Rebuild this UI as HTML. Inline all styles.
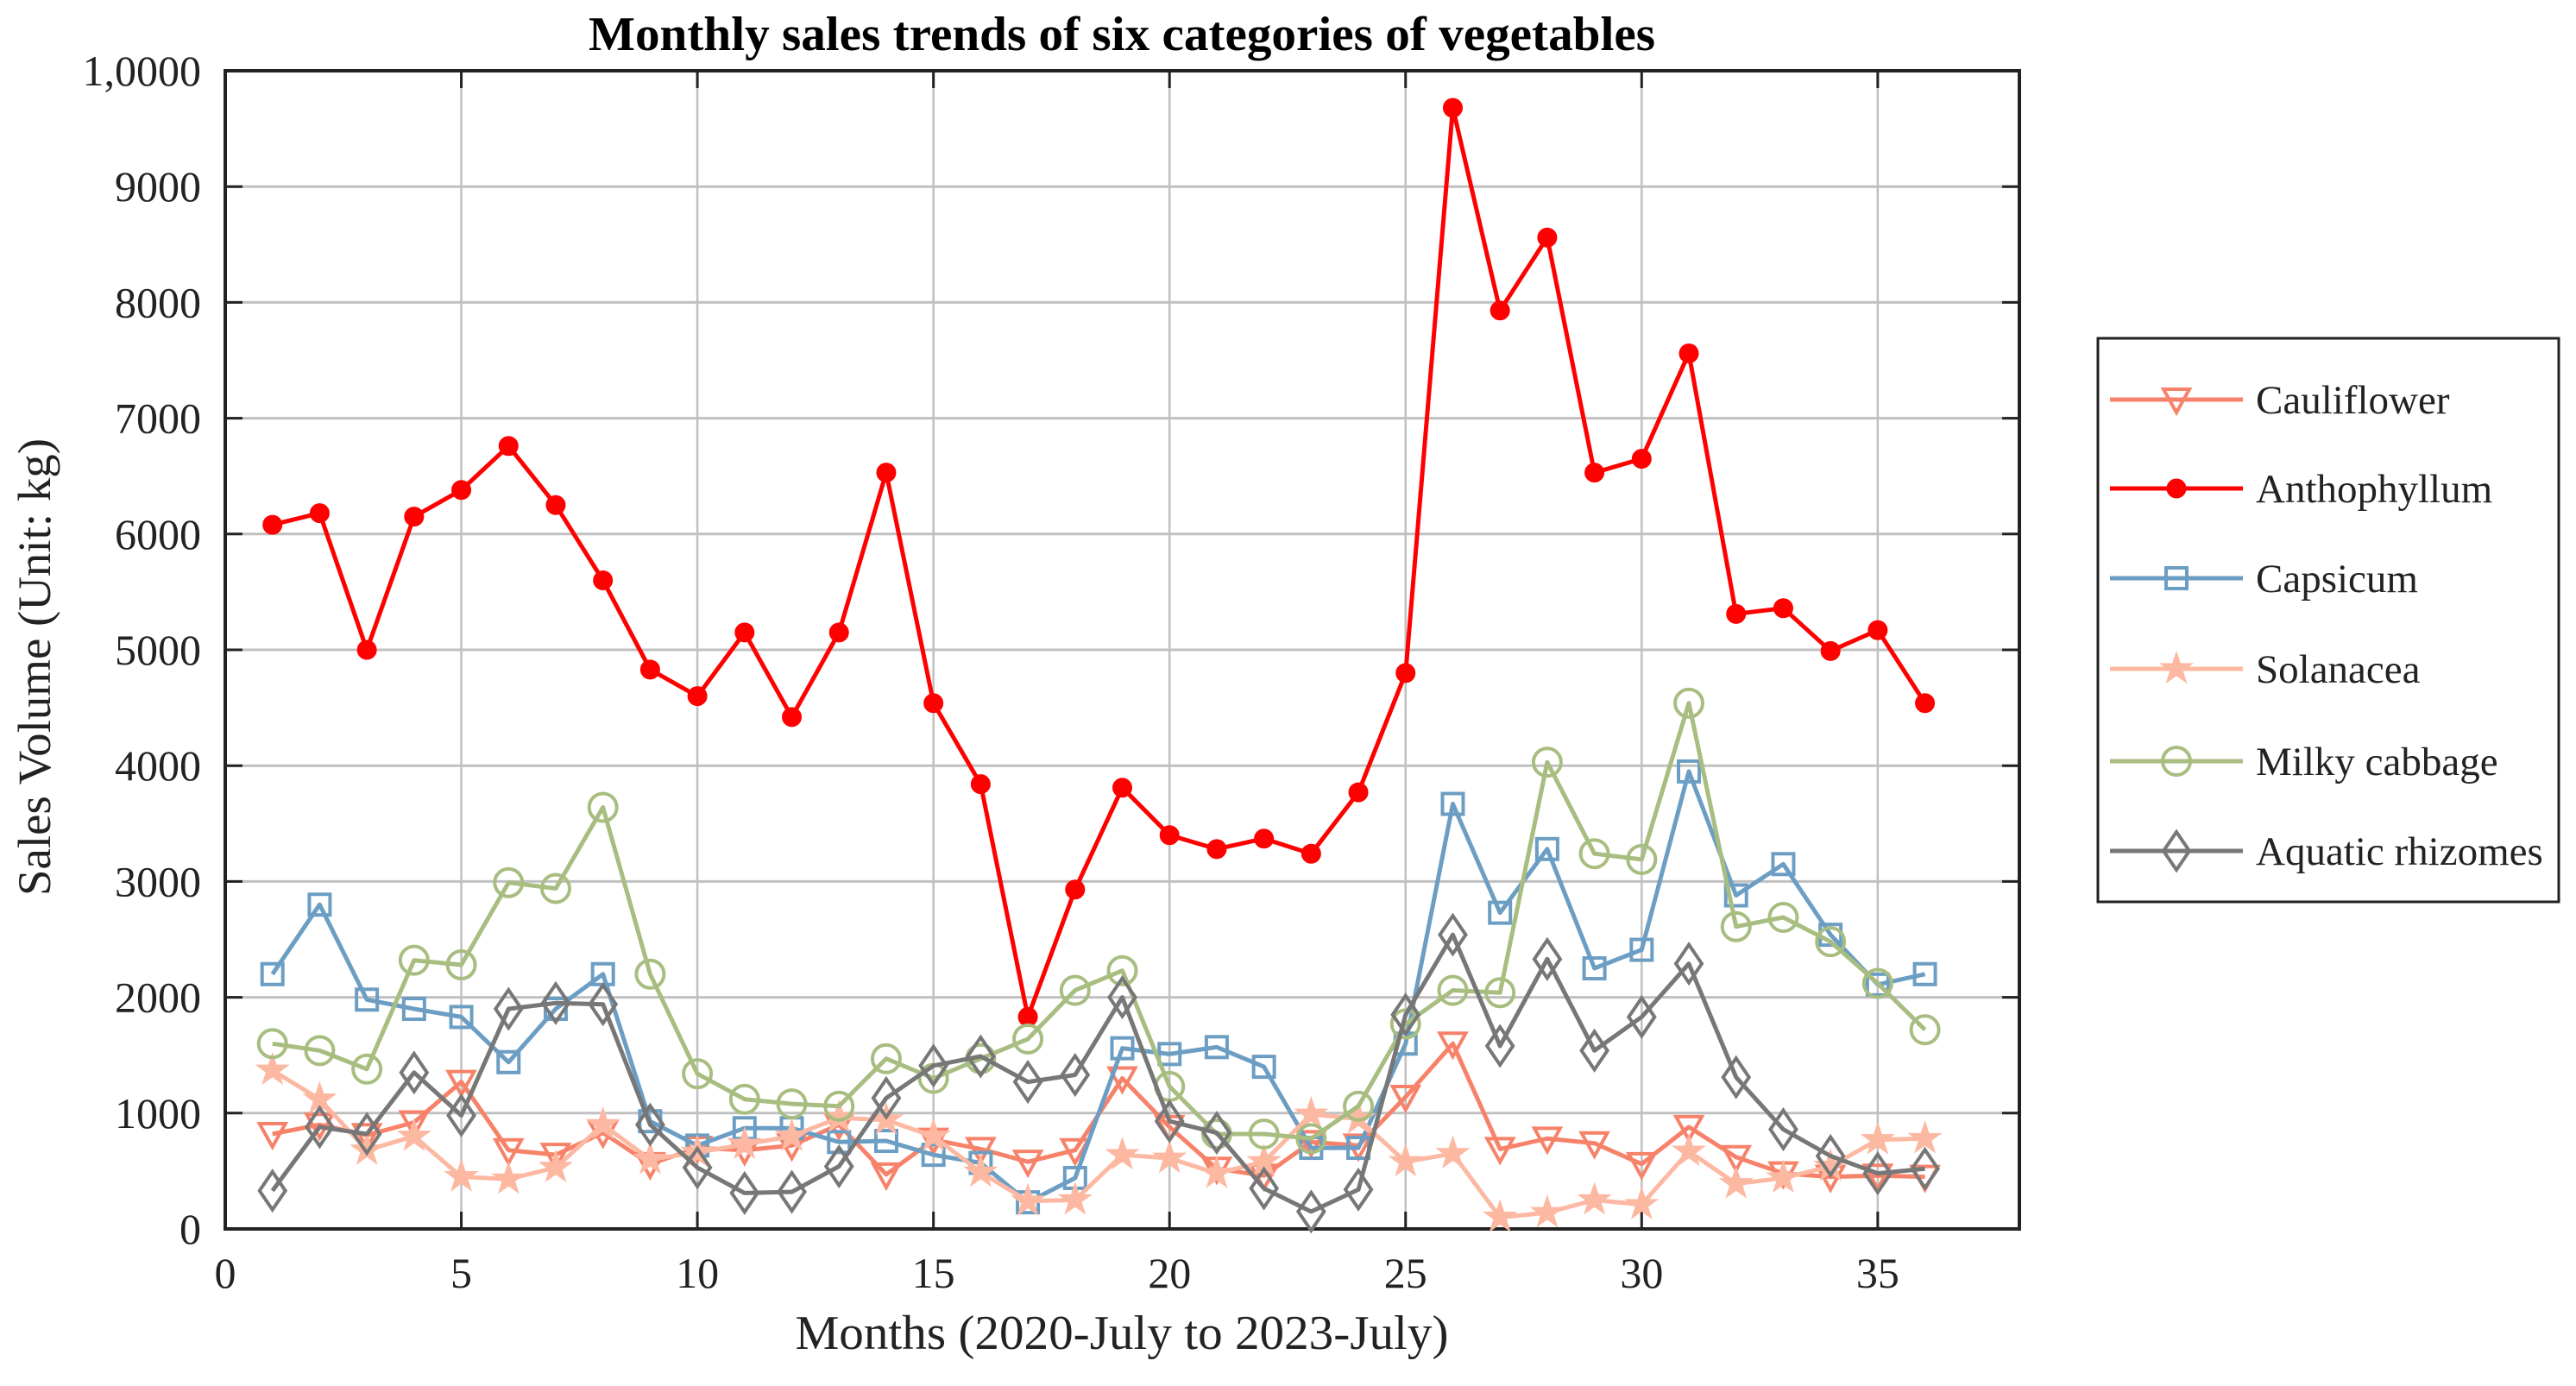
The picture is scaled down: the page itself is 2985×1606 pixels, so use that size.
<!DOCTYPE html>
<html><head><meta charset="utf-8"><style>
html,body{margin:0;padding:0;background:#fff;}
svg{display:block;font-family:"Liberation Serif",serif;}
</style></head><body>
<svg id="chart" width="2985" height="1606" viewBox="0 0 2985 1606" xmlns="http://www.w3.org/2000/svg">
<text x="1300" y="58" text-anchor="middle" font-size="56" font-weight="bold" textLength="1236" lengthAdjust="spacingAndGlyphs">Monthly sales trends of six categories of vegetables</text>
<g id="grid"></g>
<g id="axes"></g>
<g id="series"></g>
<text x="1300" y="1563" text-anchor="middle" font-size="56" fill="#222" textLength="757" lengthAdjust="spacingAndGlyphs">Months (2020-July to 2023-July)</text>
<text transform="translate(58,773) rotate(-90)" text-anchor="middle" font-size="54" fill="#222" textLength="530" lengthAdjust="spacingAndGlyphs">Sales Volume (Unit: kg)</text>
<g id="legend"></g>
</svg>
<script>
const months = Array.from({length:36},(_,i)=>i+1);
const xTicks = [0,5,10,15,20,25,30,35];
const yTicks = [0,1000,2000,3000,4000,5000,6000,7000,8000,9000,10000];
const yTickLabels = ["0","1000","2000","3000","4000","5000","6000","7000","8000","9000","1,0000"];
const seriesNames = ["Cauliflower","Anthophyllum","Capsicum","Solanacea","Milky cabbage","Aquatic rhizomes"];
const cauliflower = [820,900,810,920,1270,680,640,830,560,700,680,720,900,470,770,690,580,680,1300,880,520,460,750,720,1140,1600,690,780,740,560,880,620,480,450,460,450];
const anthophyllum = [6080,6180,5000,6150,6380,6760,6250,5600,4830,4600,5150,4420,5150,6530,4540,3840,1830,2930,3810,3400,3280,3370,3240,3770,4800,9680,7930,8560,6530,6650,7560,5310,5360,4990,5170,4540];
const capsicum = [2200,2800,1980,1900,1830,1440,1900,2200,930,720,870,870,750,760,640,570,230,440,1560,1510,1570,1400,700,700,1600,3670,2730,3280,2250,2410,3950,2880,3150,2540,2110,2200];
const solanacea = [1370,1120,680,800,450,430,530,900,600,660,730,800,960,940,800,490,240,250,640,610,480,580,990,950,580,650,100,140,250,210,670,390,440,540,770,780];
const milkyCabbage = [1600,1540,1380,2320,2280,2990,2940,3640,2200,1340,1120,1080,1060,1470,1300,1470,1640,2060,2230,1230,820,820,780,1060,1770,2060,2040,4030,3240,3190,4540,2610,2690,2480,2120,1720];
const aquatic = [330,880,820,1350,980,1900,1950,1940,900,530,310,320,540,1130,1410,1490,1270,1330,2000,930,830,350,150,340,1850,2540,1580,2330,1540,1830,2290,1310,860,630,480,520];

const L=261,R=2340,T=82,B=1424,XMAX=38,YMAX=10000;
const xs=v=>L+(R-L)*v/XMAX;
const ys=v=>B-(B-T)*v/YMAX;
const NS="http://www.w3.org/2000/svg";
function mk(tag,attrs,parent){const e=document.createElementNS(NS,tag);for(const k in attrs)e.setAttribute(k,attrs[k]);parent.appendChild(e);return e;}
const grid=document.getElementById('grid'),axes=document.getElementById('axes'),ser=document.getElementById('series'),leg=document.getElementById('legend');

xTicks.forEach(t=>{
  const x=xs(t);
  if(t>0){const g=mk('line',{x1:x,x2:x,y1:T,y2:B,stroke:'#c0c0c0','stroke-width':2.5},grid);
  
  }
  mk('line',{x1:x,x2:x,y1:B,y2:B-20,stroke:'#222','stroke-width':3},axes);
  mk('line',{x1:x,x2:x,y1:T,y2:T+20,stroke:'#222','stroke-width':3},axes);
  const tx=mk('text',{x:x,y:B+68,'text-anchor':'middle','font-size':50,fill:'#222'},axes);
  tx.textContent=t;
  
  
});
yTicks.forEach((t,i)=>{
  const y=ys(t);
  if(t>0&&t<YMAX){const g=mk('line',{x1:L,x2:R,y1:y,y2:y,stroke:'#c0c0c0','stroke-width':3},grid);
  
  }
  mk('line',{x1:L,x2:L+20,y1:y,y2:y,stroke:'#222','stroke-width':3},axes);
  mk('line',{x1:R,x2:R-20,y1:y,y2:y,stroke:'#222','stroke-width':3},axes);
  const tx=mk('text',{x:L-28,y:y+17,'text-anchor':'end','font-size':50,fill:'#222'},axes);
  tx.textContent=yTickLabels[i];
  
  
});
const fr=mk('rect',{x:L,y:T,width:R-L,height:B-T,fill:'none',stroke:'#222','stroke-width':4},axes);



function marker(type,x,y,color,parent){
  const s=15;let e;
  if(type==='tri'){e=mk('polygon',{points:`${x-s},${y-s*0.8} ${x+s},${y-s*0.8} ${x},${y+s}`,fill:'none',stroke:color,'stroke-width':4},parent);}
  else if(type==='dot'){e=mk('circle',{cx:x,cy:y,r:10,fill:color,stroke:color,'stroke-width':3},parent);}
  else if(type==='sq'){e=mk('rect',{x:x-12,y:y-12,width:24,height:24,fill:'none',stroke:color,'stroke-width':4},parent);}
  else if(type==='star'){let p=[];for(let k=0;k<10;k++){const a=-Math.PI/2+k*Math.PI/5;const r=k%2?7:18;p.push((x+r*Math.cos(a)).toFixed(1)+','+(y+r*Math.sin(a)).toFixed(1));}
    e=mk('polygon',{points:p.join(' '),fill:color,stroke:color,'stroke-width':2},parent);}
  else if(type==='circ'){e=mk('circle',{cx:x,cy:y,r:16,fill:'none',stroke:color,'stroke-width':4},parent);}
  else if(type==='dia'){e=mk('polygon',{points:`${x},${y-22} ${x+15},${y} ${x},${y+22} ${x-15},${y}`,fill:'none',stroke:color,'stroke-width':4},parent);}
  return e;
}
const defs=[
  [cauliflower,'#F7826A','tri','cauliflower'],
  [anthophyllum,'#FF0000','dot','anthophyllum'],
  [capsicum,'#6C9EC4','sq','capsicum'],
  [solanacea,'#FDB8A2','star','solanacea'],
  [milkyCabbage,'#A8BD80','circ','milky-cabbage'],
  [aquatic,'#777777','dia','aquatic-rhizomes']
];
defs.forEach(([vals,color,mt,name])=>{
  const g=mk('g',{},ser);
  
  
  const pts=vals.map((v,i)=>xs(months[i]).toFixed(1)+','+ys(v).toFixed(1)).join(' ');
  const pl=mk('polyline',{points:pts,fill:'none',stroke:color,'stroke-width':5,'stroke-linejoin':'round'},g);
  
  
  vals.forEach((v,i)=>{const m=marker(mt,xs(months[i]),ys(v),color,g);
    
    });
});
const lb=mk('rect',{x:2431,y:392,width:534,height:653,fill:'#fff',stroke:'#222','stroke-width':3},leg);


const legY=[463,566,670,775,882,986];
defs.forEach(([vals,color,mt,name],i)=>{
  const g=mk('g',{},leg);
  
  
  const y=legY[i];
  mk('line',{x1:2445,x2:2599,y1:y,y2:y,stroke:color,'stroke-width':5},g);
  marker(mt,2522,y,color,g);
  const t=mk('text',{x:2614,y:y+16,'font-size':47,fill:'#222'},g);
  t.textContent=seriesNames[i];
});
</script>
</body></html>
